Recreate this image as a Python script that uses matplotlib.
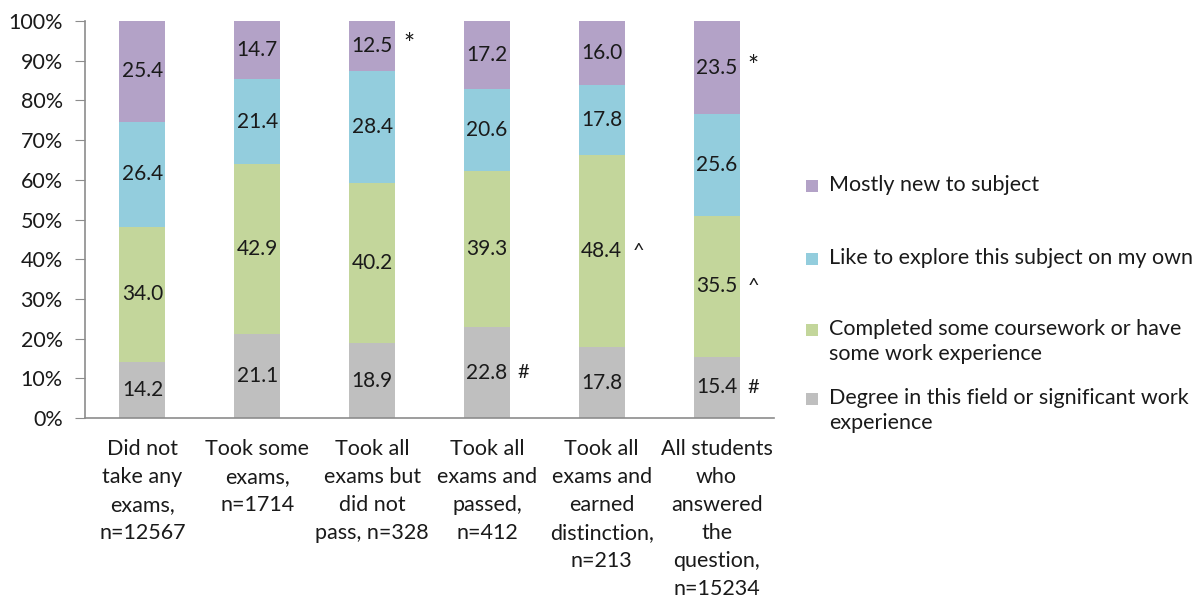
import matplotlib.pyplot as plt
import numpy as np
from matplotlib.patches import Rectangle

plt.rcParams['font.family'] = ['Lato', 'DejaVu Sans']

# categories (x axis)
categories = [
    "Did not\ntake any\nexams,\nn=12567",
    "Took some\nexams,\nn=1714",
    "Took all\nexams but\ndid not\npass, n=328",
    "Took all\nexams and\npassed,\nn=412",
    "Took all\nexams and\nearned\ndistinction,\nn=213",
    "All students\nwho\nanswered\nthe\nquestion,\nn=15234",
]

# series, bottom to top
series_names = [
    "Degree in this field or significant work\nexperience",
    "Completed some coursework or have\nsome work experience",
    "Like to explore this subject on my own",
    "Mostly new to subject",
]
degree = [14.2, 21.1, 18.9, 22.8, 17.8, 15.4]
coursework = [34.0, 42.9, 40.2, 39.3, 48.4, 35.5]
explore = [26.4, 21.4, 28.4, 20.6, 17.8, 25.6]
new_subject = [25.4, 14.7, 12.5, 17.2, 16.0, 23.5]

# significance markers shown next to labels
marks_degree = ["", "", "", "#", "", "#"]
marks_coursework = ["", "", "", "", "^", "^"]
marks_explore = ["", "", "", "", "", ""]
marks_new = ["", "", "*", "", "", "*"]

colors = ["#BFBFBF", "#C3D69B", "#93CDDD", "#B3A2C7"]

values = np.array([degree, coursework, explore, new_subject])
marks = [marks_degree, marks_coursework, marks_explore, marks_new]
pct = values / values.sum(axis=0) * 100

fig = plt.figure(figsize=(11.97, 6.0), dpi=100)
ax = fig.add_axes([0.071, 0.3033, 0.5756, 0.6617])

x = np.arange(len(categories))
bw = 0.4
bottom = np.zeros(len(categories))
for i in range(len(values)):
    ax.bar(x, pct[i], bw, bottom=bottom, color=colors[i], edgecolor='none', zorder=2)
    for j in range(len(categories)):
        yc = bottom[j] + pct[i][j] / 2
        ax.text(x[j], yc, "%.1f" % values[i][j], ha='center', va='center',
                fontsize=15, color='#1a1a1a', zorder=3)
        if marks[i][j]:
            fs = 19 if marks[i][j] == "*" else 14.5
            ax.text(x[j] + bw / 2 + 0.07, yc, marks[i][j], ha='left', va='center',
                    fontsize=fs, color='#1a1a1a', zorder=3)
    bottom += pct[i]

ax.set_xlim(-0.5, len(categories) - 0.5)
ax.set_ylim(0, 100)
ax.set_yticks(np.arange(0, 101, 10))
ax.set_yticklabels(["%d%%" % v for v in range(0, 101, 10)])
ax.set_xticks(x)
ax.set_xticklabels(categories, linespacing=1.5)

for s in ['top', 'right']:
    ax.spines[s].set_visible(False)
for s in ['left', 'bottom']:
    ax.spines[s].set_color('#8c8c8c')
    ax.spines[s].set_linewidth(1.2)
ax.tick_params(axis='y', length=7, color='#8c8c8c', labelsize=15.5, labelcolor='#1a1a1a', pad=9)
ax.tick_params(axis='x', length=0, labelsize=15.5, labelcolor='#1a1a1a', pad=15)

# legend drawn by hand so the square sits on the first line
leg_y = [186, 259, 330, 399]
for name, col, yp in zip(series_names[::-1], colors[::-1], leg_y):
    yf = 1 - yp / 600
    fig.add_artist(Rectangle((806 / 1197, yf - 6 / 600), 12 / 1197, 12 / 600,
                             transform=fig.transFigure, facecolor=col, edgecolor='none'))
    fig.text(829 / 1197, yf + 11 / 600, name, ha='left', va='top', fontsize=15.5,
             color='#1a1a1a', linespacing=1.3)

fig.savefig('out.png', dpi=100)
